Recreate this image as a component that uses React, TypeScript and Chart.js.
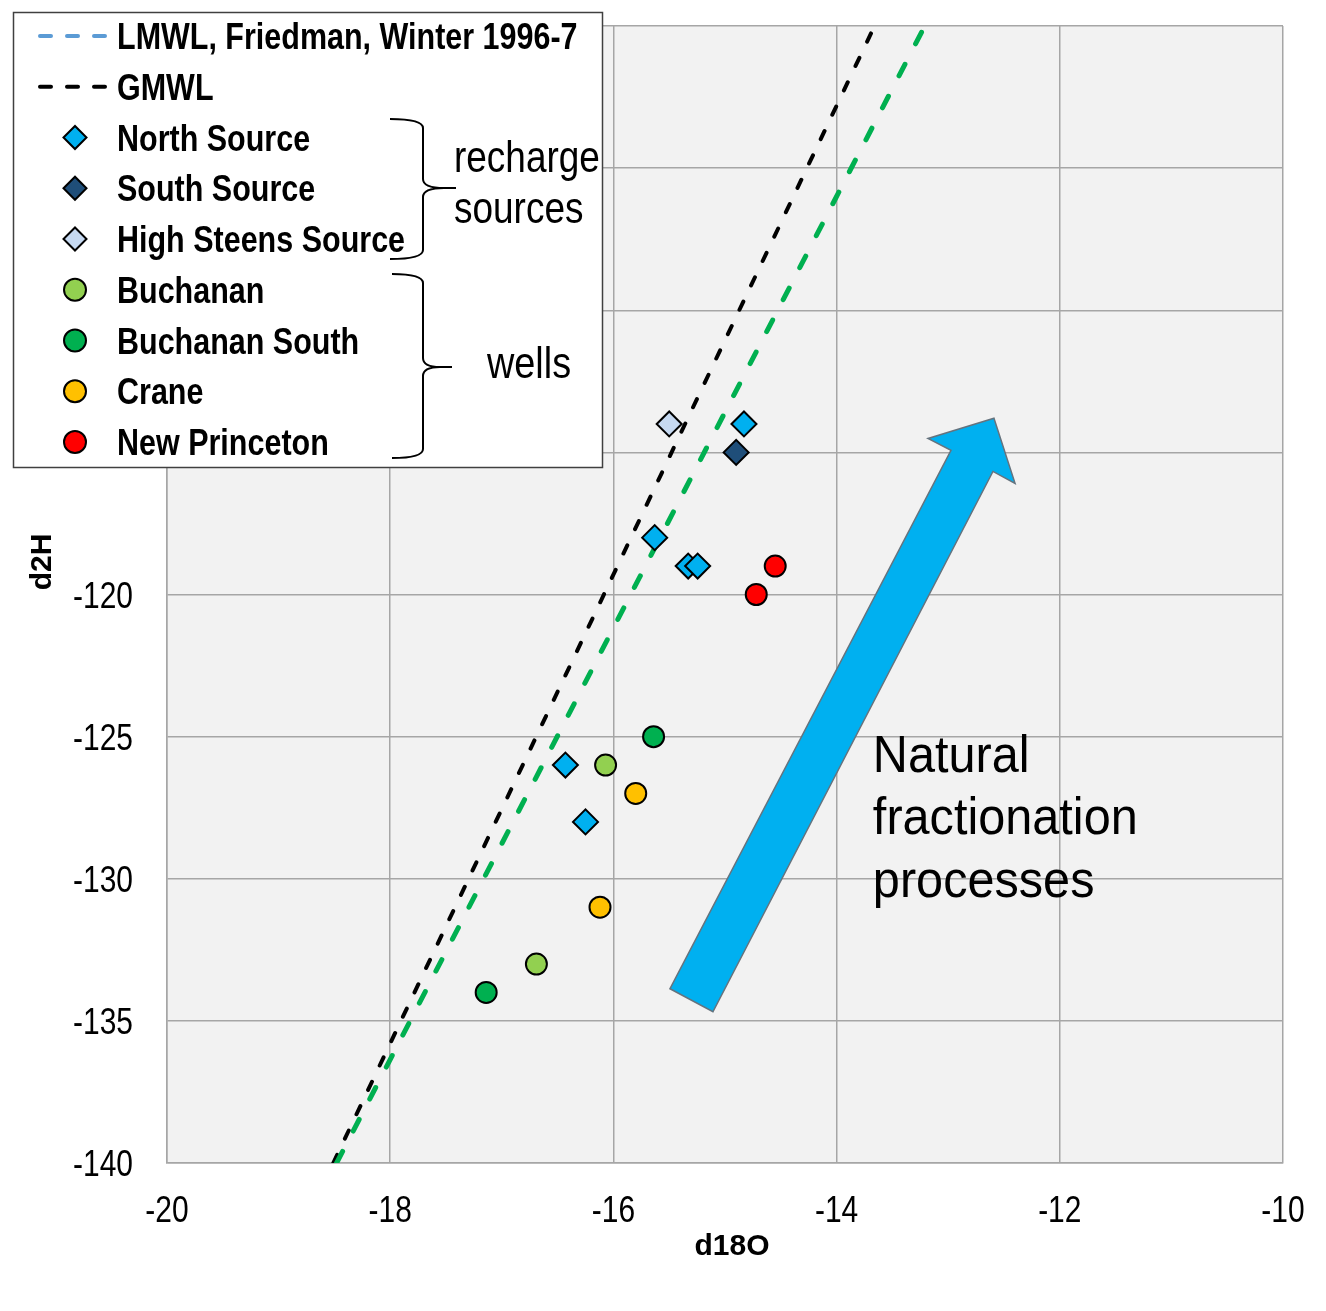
import React, { useEffect, useRef } from 'react';
import { Chart, registerables } from 'chart.js';

Chart.register(...registerables);

// ---------- axes ----------
const xTicks = [-20, -18, -16, -14, -12, -10];
const yTicks = [-140, -135, -130, -125, -120, -115, -110, -105, -100];
const xTitle = 'd18O';
const yTitle = 'd2H';

// ---------- series (d18O, d2H) ----------
const northX = [-14.83, -15.63, -15.33, -15.245, -16.43, -16.25];
const northY = [-114, -118, -119, -119, -126, -128];
const southX = [-14.9];
const southY = [-115];
const steensX = [-15.5];
const steensY = [-114];
const buchananX = [-16.07, -16.69];
const buchananY = [-126, -133];
const buchSouthX = [-15.64, -17.14];
const buchSouthY = [-125, -134];
const craneX = [-15.8, -16.12];
const craneY = [-127, -131];
const princetonX = [-14.55, -14.72];
const princetonY = [-119, -120];

// meteoric water lines (end points)
const gmwlX = [-18.51, -13.66];
const gmwlY = [-140, -100];
const localLineX = [-18.48, -13.21];
const localLineY = [-140, -100];

// block arrow outline (data units)
const arrowX = [-15.493, -15.108, -12.599, -12.401, -12.59, -13.181, -12.975];
const arrowY = [-133.87, -134.68, -115.67, -116.09, -113.8, -114.51, -114.93];

const annotationLines = ['Natural', 'fractionation', 'processes'];
const annotationAnchor = { x: -13.675, y: -126.23 };

const legendLabels = [
  'LMWL, Friedman, Winter 1996-7',
  'GMWL',
  'North Source',
  'South Source',
  'High Steens Source',
  'Buchanan',
  'Buchanan South',
  'Crane',
  'New Princeton',
];

const SANS = '"Liberation Sans", Arial, sans-serif';

const pts = (xs: number[], ys: number[]) => xs.map((x, i) => ({ x, y: ys[i] }));

// draw text condensed horizontally (emulates a narrow face)
function condensedText(
  ctx: CanvasRenderingContext2D,
  text: string,
  x: number,
  y: number,
  sx: number,
  align: 'left' | 'right' | 'center' = 'left',
) {
  ctx.save();
  ctx.translate(x, y);
  ctx.scale(sx, 1);
  ctx.textAlign = align;
  ctx.fillText(text, 0, 0);
  ctx.restore();
}

const bgPlugin = {
  id: 'plotBg',
  beforeDraw(chart: any) {
    const { ctx, chartArea: a } = chart;
    ctx.save();
    ctx.fillStyle = '#F2F2F2';
    ctx.fillRect(a.left, a.top, a.right - a.left, a.bottom - a.top);
    ctx.restore();
  },
};

const axisTextPlugin = {
  id: 'axisText',
  afterDraw(chart: any) {
    const { ctx } = chart;
    const xs = chart.scales.x;
    const ys = chart.scales.y;
    ctx.save();
    ctx.fillStyle = '#000';
    ctx.textBaseline = 'alphabetic';
    ctx.font = `37px ${SANS}`;
    xs.ticks.forEach((t: any) => {
      const px = xs.getPixelForValue(t.value);
      condensedText(ctx, String(t.value), px, ys.bottom + 59, 0.81, 'center');
    });
    ys.ticks.forEach((t: any) => {
      const py = ys.getPixelForValue(t.value);
      condensedText(ctx, String(t.value), ys.right - 34, py + 13, 0.81, 'right');
    });
    ctx.font = `bold 30px ${SANS}`;
    ctx.textAlign = 'center';
    ctx.fillText(xTitle, 732, 1255);
    ctx.save();
    ctx.translate(51, 562);
    ctx.rotate(-Math.PI / 2);
    ctx.fillText(yTitle, 0, 0);
    ctx.restore();
    ctx.restore();
  },
};

const arrowPlugin = {
  id: 'arrowAnno',
  beforeDatasetsDraw(chart: any) {
    const { ctx } = chart;
    const xs = chart.scales.x;
    const ys = chart.scales.y;
    ctx.save();
    ctx.beginPath();
    arrowX.forEach((v, i) => {
      const px = xs.getPixelForValue(v);
      const py = ys.getPixelForValue(arrowY[i]);
      if (i === 0) ctx.moveTo(px, py);
      else ctx.lineTo(px, py);
    });
    ctx.closePath();
    ctx.fillStyle = '#00B0F0';
    ctx.fill();
    ctx.strokeStyle = '#65737E';
    ctx.lineWidth = 1.5;
    ctx.stroke();
    ctx.restore();
  },
  afterDatasetsDraw(chart: any) {
    const { ctx } = chart;
    const px = chart.scales.x.getPixelForValue(annotationAnchor.x);
    const py = chart.scales.y.getPixelForValue(annotationAnchor.y);
    ctx.save();
    ctx.fillStyle = '#000';
    ctx.font = `52px ${SANS}`;
    ctx.textBaseline = 'alphabetic';
    annotationLines.forEach((t, i) => condensedText(ctx, t, px, py + i * 62.5, 0.935));
    ctx.restore();
  },
};

function brace(ctx: CanvasRenderingContext2D, xl: number, xr: number, xt: number, top: number, mid: number, bot: number) {
  ctx.beginPath();
  ctx.moveTo(xl, top);
  ctx.quadraticCurveTo(xr, top, xr, top + 9);
  ctx.lineTo(xr, mid - 9);
  ctx.quadraticCurveTo(xr, mid, xt - 12, mid);
  ctx.lineTo(xt, mid);
  ctx.moveTo(xt - 12, mid);
  ctx.quadraticCurveTo(xr, mid, xr, mid + 9);
  ctx.lineTo(xr, bot - 9);
  ctx.quadraticCurveTo(xr, bot, xl, bot);
  ctx.stroke();
}

const legendPlugin = {
  id: 'customLegend',
  afterDraw(chart: any) {
    const { ctx } = chart;
    ctx.save();
    ctx.fillStyle = '#FFFFFF';
    ctx.fillRect(13, 12, 590, 456);
    ctx.strokeStyle = '#404040';
    ctx.lineWidth = 1.5;
    ctx.strokeRect(13.5, 12.5, 589, 455);

    const ds = chart.data.datasets.filter((d: any) => !d.hideInLegend);
    ds.forEach((d: any, i: number) => {
      const cy = 36 + i * 50.75;
      if (d.showLine) {
        ctx.save();
        ctx.strokeStyle = d.borderColor;
        ctx.lineWidth = 4;
        ctx.lineCap = 'round';
        ctx.setLineDash([11, 16]);
        ctx.beginPath();
        ctx.moveTo(40, cy);
        ctx.lineTo(106, cy);
        ctx.stroke();
        ctx.restore();
      } else {
        ctx.save();
        ctx.fillStyle = d.backgroundColor;
        ctx.strokeStyle = '#000';
        ctx.lineWidth = 2;
        ctx.beginPath();
        if (d.pointStyle === 'rectRot') {
          const r = 11.5;
          ctx.moveTo(75 - r, cy);
          ctx.lineTo(75, cy - r);
          ctx.lineTo(75 + r, cy);
          ctx.lineTo(75, cy + r);
          ctx.closePath();
        } else {
          ctx.arc(75, cy, 11, 0, Math.PI * 2);
        }
        ctx.fill();
        ctx.stroke();
        ctx.restore();
      }
      ctx.fillStyle = '#000';
      ctx.font = `bold 36px ${SANS}`;
      ctx.textBaseline = 'alphabetic';
      condensedText(ctx, d.label, 117, cy + 13, 0.847);
    });

    ctx.strokeStyle = '#000';
    ctx.lineWidth = 2;
    brace(ctx, 390, 423, 456, 119, 188, 259);
    brace(ctx, 392, 423, 452, 274, 367, 458);

    ctx.fillStyle = '#000';
    ctx.font = `44px ${SANS}`;
    ctx.textBaseline = 'alphabetic';
    condensedText(ctx, 'recharge', 454, 172, 0.84);
    condensedText(ctx, 'sources', 454, 223, 0.84);
    condensedText(ctx, 'wells', 487, 378, 0.86);
    ctx.restore();
  },
};

export default function App() {
  const ref = useRef<HTMLCanvasElement | null>(null);

  useEffect(() => {
    if (!ref.current) return;
    const marker = (label: string, xs: number[], ys: number[], color: string, style: string) => ({
      label,
      data: pts(xs, ys),
      pointStyle: style,
      pointRadius: style === 'rectRot' ? 12.5 : 10.5,
      pointBorderWidth: 2,
      backgroundColor: color,
      borderColor: '#000',
      pointBackgroundColor: color,
      pointBorderColor: '#000',
      showLine: false,
      order: 0,
    });

    const chart = new Chart(ref.current, {
      type: 'scatter',
      data: {
        datasets: [
          {
            label: legendLabels[0],
            data: [],
            showLine: true,
            borderColor: '#5B9BD5',
            borderWidth: 4,
            borderDash: [11, 16],
            borderCapStyle: 'round',
            pointRadius: 0,
            order: 10,
          },
          {
            label: legendLabels[1],
            data: pts(gmwlX, gmwlY),
            showLine: true,
            borderColor: '#000000',
            borderWidth: 4,
            borderDash: [9, 18],
            borderCapStyle: 'round',
            pointRadius: 0,
            order: 10,
          },
          marker(legendLabels[2], northX, northY, '#00B0F0', 'rectRot'),
          marker(legendLabels[3], southX, southY, '#1F4E79', 'rectRot'),
          marker(legendLabels[4], steensX, steensY, '#C6D9F1', 'rectRot'),
          marker(legendLabels[5], buchananX, buchananY, '#92D050', 'circle'),
          marker(legendLabels[6], buchSouthX, buchSouthY, '#00B050', 'circle'),
          marker(legendLabels[7], craneX, craneY, '#FFC000', 'circle'),
          marker(legendLabels[8], princetonX, princetonY, '#FF0000', 'circle'),
          {
            label: 'Local meteoric water line',
            hideInLegend: true,
            data: pts(localLineX, localLineY),
            showLine: true,
            borderColor: '#00B050',
            borderWidth: 5,
            borderDash: [13, 23],
            borderCapStyle: 'round',
            pointRadius: 0,
            order: 9,
          } as any,
        ] as any,
      },
      options: {
        responsive: false,
        animation: false,
        layout: { padding: { top: 26, right: 43, left: 0, bottom: 0 } },
        plugins: {
          legend: { display: false },
          tooltip: { enabled: false },
        },
        scales: {
          x: {
            type: 'linear',
            min: xTicks[0],
            max: xTicks[xTicks.length - 1],
            afterBuildTicks: (s: any) => {
              s.ticks = xTicks.map((v) => ({ value: v }));
            },
            afterFit: (s: any) => {
              s.height = 148;
              s.paddingLeft = 0;
              s.paddingRight = 0;
            },
            ticks: { display: false, autoSkip: false },
            grid: { color: '#A6A6A6', lineWidth: 1.5, drawTicks: false },
            border: { color: '#A6A6A6', width: 1.5 },
            title: { display: false, text: xTitle },
          },
          y: {
            type: 'linear',
            min: yTicks[0],
            max: yTicks[yTicks.length - 1],
            afterBuildTicks: (s: any) => {
              s.ticks = yTicks.map((v) => ({ value: v }));
            },
            afterFit: (s: any) => {
              s.width = 167;
              s.paddingTop = 0;
              s.paddingBottom = 0;
            },
            ticks: { display: false, autoSkip: false },
            grid: { color: '#A6A6A6', lineWidth: 1.5, drawTicks: false },
            border: { color: '#A6A6A6', width: 1.5 },
            title: { display: false, text: yTitle },
          },
        },
      } as any,
      plugins: [bgPlugin, arrowPlugin, axisTextPlugin, legendPlugin],
    });
    return () => chart.destroy();
  }, []);

  return (
    <div style={{ position: 'absolute', left: 0, top: 0, width: 1326, height: 1311, background: '#fff' }}>
      <canvas ref={ref} width={1326} height={1311} style={{ width: 1326, height: 1311, display: 'block' }} />
    </div>
  );
}
